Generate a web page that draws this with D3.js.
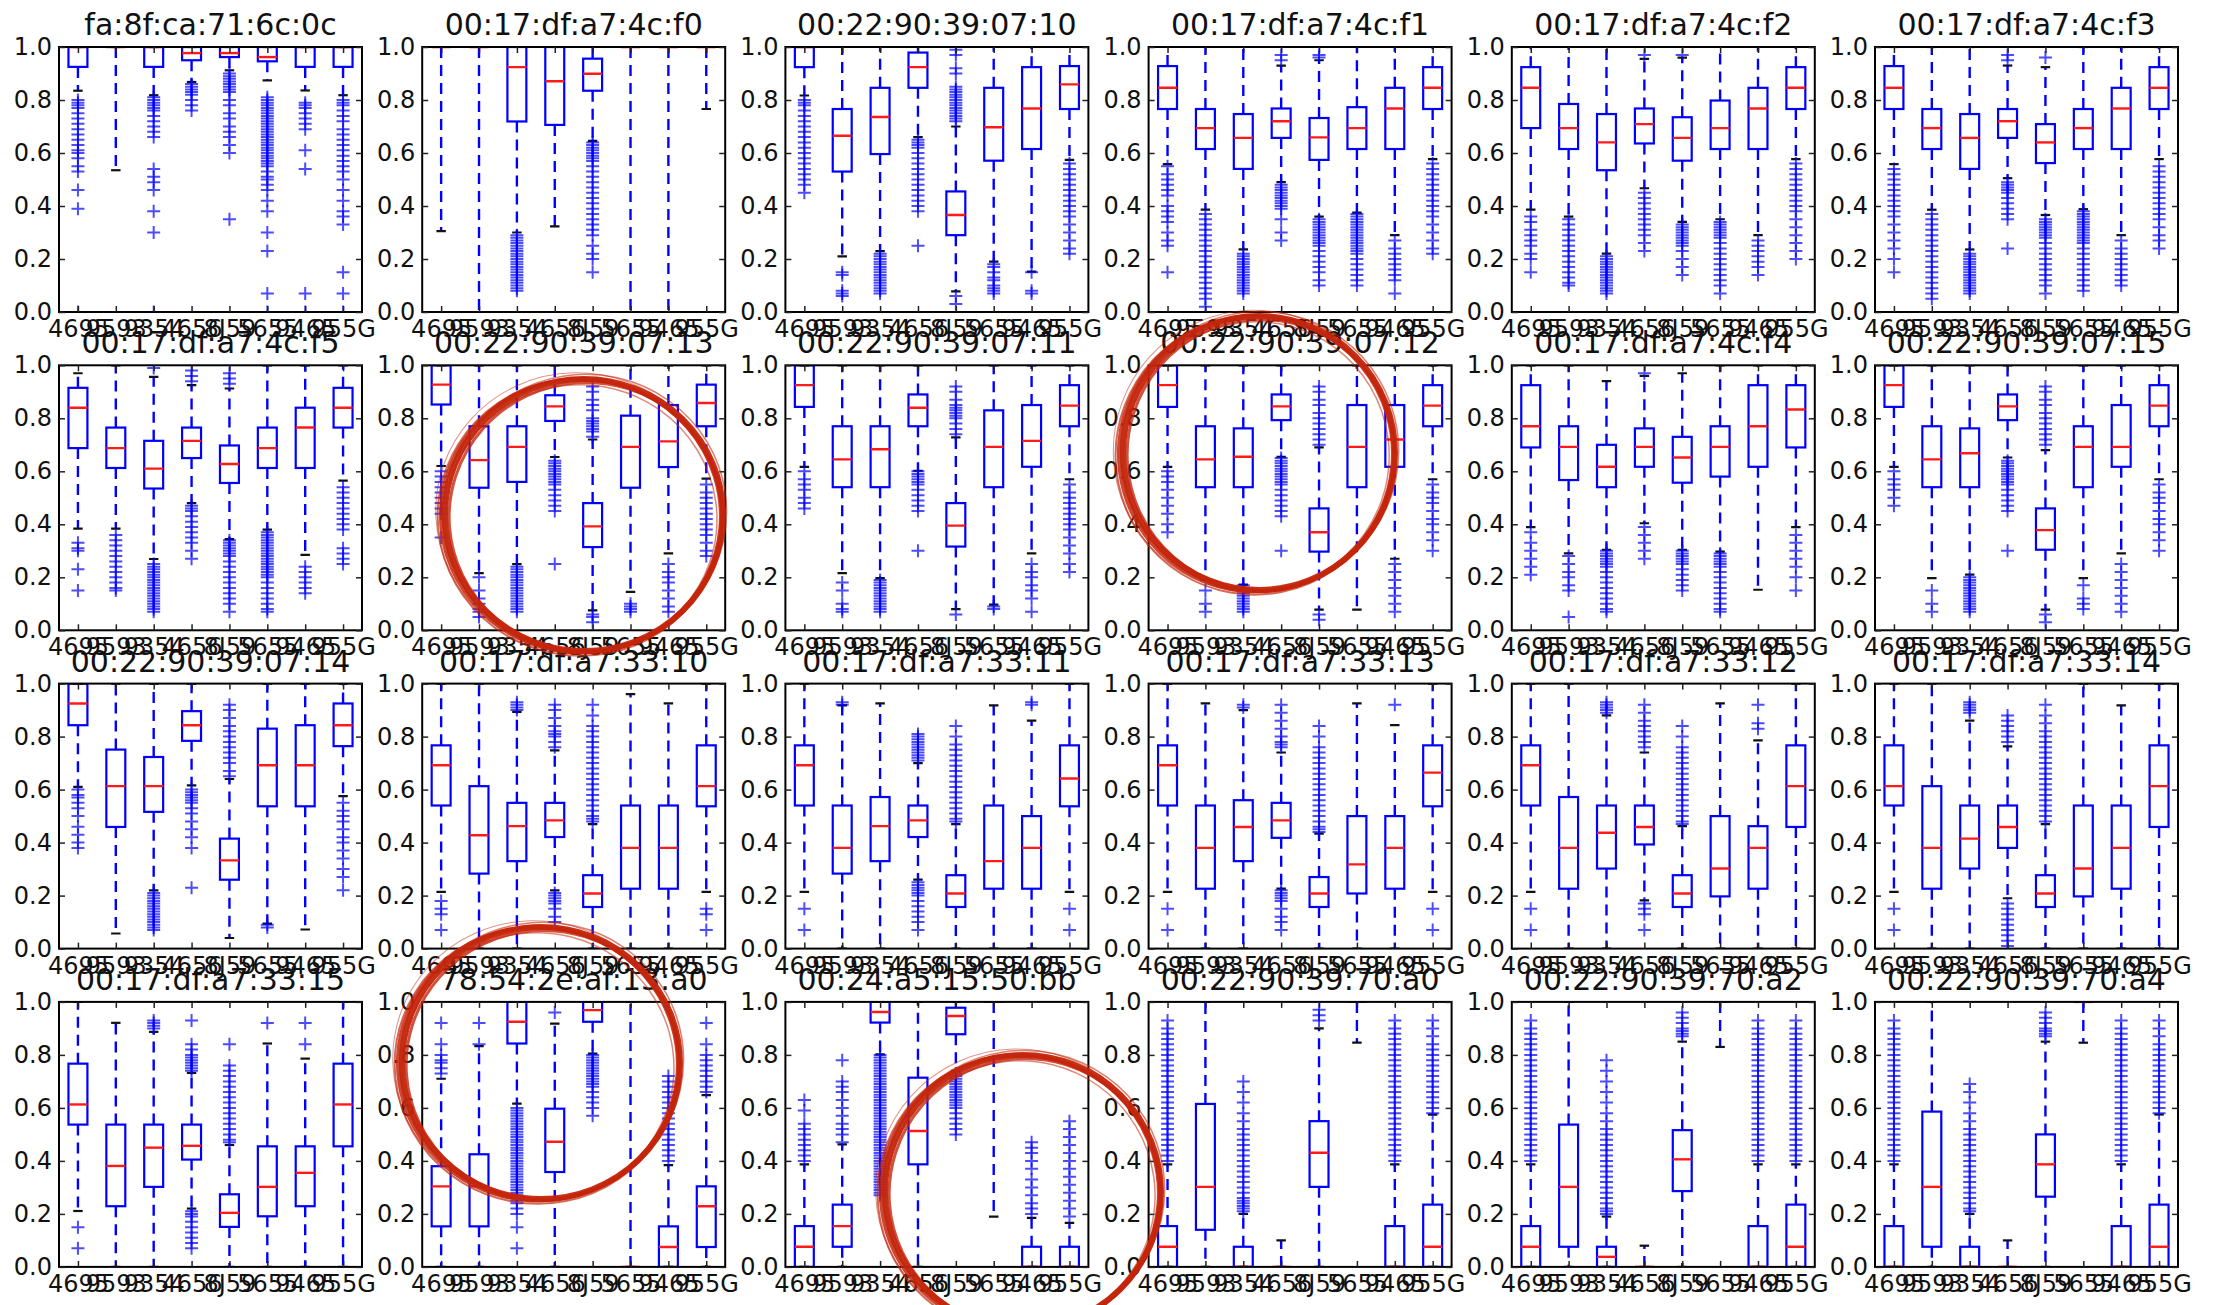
<!DOCTYPE html>
<html>
<head>
<meta charset="utf-8">
<script src="https://cdn.jsdelivr.net/npm/d3@7"></script>
<style>
  html, body { margin: 0; padding: 0; background: #fff; }
  svg { display: block; }
</style>
</head>
<body>
<svg id="chart" width="2219" height="1305"></svg>
<script>
// Access points, one small multiple each
const titles = [
  "fa:8f:ca:71:6c:0c", "00:17:df:a7:4c:f0", "00:22:90:39:07:10", "00:17:df:a7:4c:f1", "00:17:df:a7:4c:f2", "00:17:df:a7:4c:f3",
  "00:17:df:a7:4c:f5", "00:22:90:39:07:13", "00:22:90:39:07:11", "00:22:90:39:07:12", "00:17:df:a7:4c:f4", "00:22:90:39:07:15",
  "00:22:90:39:07:14", "00:17:df:a7:33:10", "00:17:df:a7:33:11", "00:17:df:a7:33:13", "00:17:df:a7:33:12", "00:17:df:a7:33:14",
  "00:17:df:a7:33:15", "78:54:2e:af:13:a0", "00:24:a5:15:50:bb", "00:22:90:39:70:a0", "00:22:90:39:70:a2", "00:22:90:39:70:a4"
];

// Box categories along each x axis
const categories = ["4695", "9593", "9354", "4656", "8J59", "5655", "9465", "955G"];
const yTicks = [0, 0.2, 0.4, 0.6, 0.8, 1.0];

// Lower whisker end (cap) per panel, per category
const whiskerLo = [
  [0.835, 0.535, 0.818, 0.868, 0.912, 0.874, 0.836, 0.818],
  [0.305, 0, 0.30, 0.323, 0.646, 0, 0, 0.766],
  [0.817, 0.21, 0.23, 0.66, 0.078, 0.19, 0.152, 0.574],
  [0.558, 0.386, 0.236, 0.49, 0.36, 0.375, 0.29, 0.577],
  [0.386, 0.36, 0.22, 0.467, 0.34, 0.35, 0.29, 0.577],
  [0.558, 0.386, 0.236, 0.505, 0.366, 0.388, 0.29, 0.577],
  [0.384, 0.384, 0.269, 0.48, 0.344, 0.38, 0.285, 0.565],
  [0.62, 0.216, 0.25, 0.654, 0.075, 0.145, 0.29, 0.572],
  [0.617, 0.216, 0.197, 0.602, 0.08, 0.097, 0.29, 0.57],
  [0.617, 0.19, 0.172, 0.655, 0.078, 0.078, 0.27, 0.57],
  [0.389, 0.29, 0.304, 0.404, 0.304, 0.297, 0.153, 0.389],
  [0.617, 0.197, 0.21, 0.652, 0.078, 0.197, 0.29, 0.57],
  [0.61, 0.057, 0.22, 0.616, 0.04, 0.094, 0.072, 0.575],
  [0.214, 0, 0, 0.22, 0, 0, 0, 0.214],
  [0.214, 0, 0, 0.26, 0, 0, 0, 0.214],
  [0.214, 0, 0, 0.226, 0, 0, 0, 0.214],
  [0.214, 0, 0, 0.182, 0, 0, 0, 0],
  [0.214, 0, 0, 0.19, 0, 0, 0, 0],
  [0.211, 0, 0, 0.22, 0, 0, 0, 0],
  [0, 0, 0.616, 0, 0.805, 0, 0, 0],
  [0, 0, 0.802, 0, 0.74, 0.19, 0, 0],
  [0, 0, 0, 0, 0, 0.846, 0, 0],
  [0, 0, 0, 0, 0, 0.83, 0, 0],
  [0, 0, 0, 0, 0, 0.846, 0, 0]
];

// First quartile
const quartileLo = [
  [0.925, 1, 0.925, 0.95, 0.962, 0.946, 0.925, 0.925],
  [1, 1, 0.719, 0.706, 0.835, 1, 1, 1],
  [0.924, 0.53, 0.596, 0.846, 0.29, 0.571, 0.615, 0.766],
  [0.766, 0.615, 0.54, 0.657, 0.574, 0.615, 0.615, 0.766],
  [0.694, 0.615, 0.535, 0.636, 0.571, 0.615, 0.615, 0.766],
  [0.766, 0.615, 0.54, 0.657, 0.562, 0.615, 0.615, 0.766],
  [0.6875, 0.6125, 0.535, 0.65, 0.556, 0.6125, 0.6125, 0.765],
  [0.852, 0.538, 0.56, 0.79, 0.314, 0.538, 0.616, 0.77],
  [0.843, 0.54, 0.54, 0.77, 0.316, 0.54, 0.617, 0.77],
  [0.843, 0.54, 0.54, 0.793, 0.297, 0.54, 0.617, 0.77],
  [0.69, 0.567, 0.54, 0.617, 0.557, 0.58, 0.617, 0.69],
  [0.843, 0.54, 0.54, 0.793, 0.304, 0.54, 0.617, 0.77],
  [0.843, 0.459, 0.516, 0.784, 0.26, 0.537, 0.537, 0.764],
  [0.54, 0.283, 0.33, 0.421, 0.157, 0.226, 0.226, 0.537],
  [0.54, 0.283, 0.33, 0.421, 0.157, 0.226, 0.226, 0.537],
  [0.54, 0.226, 0.33, 0.418, 0.157, 0.208, 0.226, 0.537],
  [0.54, 0.226, 0.302, 0.393, 0.157, 0.197, 0.226, 0.459],
  [0.54, 0.226, 0.302, 0.38, 0.157, 0.197, 0.226, 0.459],
  [0.537, 0.229, 0.302, 0.405, 0.151, 0.191, 0.229, 0.455],
  [0.153, 0.153, 0.843, 0.358, 0.925, 0, 0, 0.075],
  [0, 0.076, 0.922, 0.387, 0.878, 1, 0, 0],
  [0, 0.14, 0, 0, 0.302, 1, 0, 0],
  [0, 0.076, 0, 0, 0.286, 1, 0, 0],
  [0, 0.076, 0, 0, 0.265, 1, 0, 0]
];

// Medians
const medians = [
  [1, 1, 1, 0.977, 0.977, 0.962, 1, 1],
  [1, 1, 0.924, 0.871, 0.899, 1, 1, 1],
  [1, 0.665, 0.736, 0.924, 0.366, 0.697, 0.768, 0.859],
  [0.846, 0.694, 0.657, 0.72, 0.659, 0.694, 0.768, 0.846],
  [0.846, 0.694, 0.64, 0.709, 0.657, 0.694, 0.768, 0.846],
  [0.846, 0.694, 0.657, 0.72, 0.64, 0.694, 0.768, 0.846],
  [0.84, 0.6875, 0.61, 0.715, 0.6275, 0.6875, 0.765, 0.84],
  [0.927, 0.642, 0.692, 0.845, 0.392, 0.692, 0.713, 0.858],
  [0.925, 0.645, 0.683, 0.84, 0.395, 0.692, 0.715, 0.848],
  [0.925, 0.645, 0.655, 0.845, 0.37, 0.692, 0.72, 0.848],
  [0.77, 0.692, 0.617, 0.692, 0.652, 0.692, 0.77, 0.833],
  [0.925, 0.645, 0.668, 0.845, 0.378, 0.692, 0.692, 0.848],
  [0.925, 0.613, 0.613, 0.843, 0.333, 0.692, 0.692, 0.843],
  [0.692, 0.428, 0.462, 0.484, 0.208, 0.38, 0.38, 0.613],
  [0.692, 0.38, 0.462, 0.484, 0.208, 0.33, 0.38, 0.642],
  [0.692, 0.38, 0.459, 0.484, 0.208, 0.318, 0.38, 0.664],
  [0.692, 0.38, 0.437, 0.459, 0.208, 0.302, 0.38, 0.613],
  [0.613, 0.38, 0.415, 0.459, 0.208, 0.302, 0.38, 0.613],
  [0.613, 0.381, 0.45, 0.457, 0.204, 0.302, 0.355, 0.613],
  [0.304, 0.304, 0.925, 0.472, 0.969, 0, 0.075, 0.229],
  [0.076, 0.154, 0.962, 0.513, 0.947, 1, 0, 0],
  [0.076, 0.302, 0, 0, 0.431, 1, 0, 0.076],
  [0.076, 0.302, 0.038, 0, 0.406, 1, 0, 0.076],
  [0, 0.302, 0, 0, 0.387, 1, 0, 0.076]
];

// Third quartile
const quartileHi = [
  [1, 1, 1, 1, 1, 1, 1, 1],
  [1, 1, 1, 1, 0.956, 1, 1, 1],
  [1, 0.766, 0.846, 0.979, 0.455, 0.846, 0.924, 0.928],
  [0.928, 0.766, 0.747, 0.768, 0.732, 0.773, 0.846, 0.924],
  [0.924, 0.785, 0.747, 0.768, 0.735, 0.798, 0.846, 0.924],
  [0.928, 0.766, 0.747, 0.766, 0.709, 0.766, 0.846, 0.924],
  [0.915, 0.765, 0.715, 0.765, 0.6975, 0.765, 0.84, 0.915],
  [1, 0.77, 0.77, 0.887, 0.48, 0.81, 0.85, 0.927],
  [1, 0.77, 0.77, 0.89, 0.48, 0.83, 0.85, 0.925],
  [1, 0.77, 0.762, 0.89, 0.46, 0.85, 0.85, 0.925],
  [0.925, 0.77, 0.7, 0.762, 0.73, 0.77, 0.925, 0.925],
  [1, 0.77, 0.762, 0.89, 0.46, 0.77, 0.85, 0.925],
  [1, 0.751, 0.723, 0.896, 0.415, 0.83, 0.843, 0.925],
  [0.767, 0.613, 0.55, 0.55, 0.277, 0.54, 0.54, 0.767],
  [0.767, 0.54, 0.572, 0.54, 0.277, 0.54, 0.5, 0.767],
  [0.767, 0.54, 0.56, 0.55, 0.27, 0.5, 0.5, 0.767],
  [0.767, 0.572, 0.54, 0.54, 0.277, 0.5, 0.462, 0.767],
  [0.767, 0.613, 0.54, 0.54, 0.277, 0.54, 0.54, 0.767],
  [0.767, 0.537, 0.537, 0.537, 0.274, 0.455, 0.455, 0.767],
  [0.38, 0.425, 1, 0.597, 1, 0, 0.153, 0.304],
  [0.154, 0.235, 1, 0.714, 0.978, 1, 0.076, 0.076],
  [0.154, 0.615, 0.076, 0, 0.55, 1, 0.154, 0.235],
  [0.154, 0.537, 0.076, 0, 0.516, 1, 0.154, 0.235],
  [0.154, 0.586, 0.076, 0, 0.5, 1, 0.154, 0.235]
];

// Upper whisker end (cap)
const whiskerHi = [
  [1, 1, 1, 1, 1, 1, 1, 1],
  [1, 1, 1, 1, 1, 1, 1, 1],
  [1, 1, 1, 1, 0.70, 1, 1, 1],
  [1, 1, 1, 0.93, 0.95, 1, 1, 1],
  [1, 1, 1, 0.955, 0.96, 1, 1, 1],
  [1, 1, 1, 0.93, 0.924, 1, 1, 1],
  [0.97, 1, 0.956, 0.925, 0.9125, 1, 1, 1],
  [1, 1, 1, 1, 0.72, 1, 1, 1],
  [1, 1, 1, 1, 0.728, 1, 1, 1],
  [1, 1, 1, 1, 0.69, 1, 1, 1],
  [1, 1, 0.94, 0.96, 0.97, 1, 1, 1],
  [1, 1, 1, 1, 0.68, 1, 1, 1],
  [1, 1, 1, 1, 0.64, 1, 1, 1],
  [1, 1, 0.893, 0.748, 0.47, 0.96, 0.925, 1],
  [1, 0.918, 0.925, 0.70, 0.47, 0.918, 0.86, 1],
  [1, 0.925, 0.9, 0.74, 0.434, 0.925, 0.843, 1],
  [1, 1, 0.88, 0.74, 0.462, 0.925, 0.786, 1],
  [1, 1, 0.86, 0.763, 0.47, 1, 0.918, 1],
  [1, 0.921, 0.887, 0.732, 0.46, 0.843, 0.786, 1],
  [0.71, 0.833, 1, 0.918, 1, 1, 0.384, 0.648],
  [0.387, 0.462, 1, 1, 1, 1, 0.185, 0.166],
  [0.387, 1, 0.2, 0.1, 0.9, 1, 0.387, 0.575],
  [0.387, 1, 0.19, 0.08, 0.85, 1, 0.387, 0.387],
  [0.387, 1, 0.2, 0.1, 0.85, 1, 0.387, 0.575]
];

// Shared flier runs that repeat across the 70:aX access points
const longTail = [0.93, 0.90, 0.88, 0.86, 0.84, 0.82, 0.80, 0.78, 0.76, 0.74, 0.72, 0.70, 0.68, 0.66, 0.64, 0.62, 0.60, 0.58, 0.56, 0.54, 0.52, 0.50, 0.48, 0.46, 0.44, 0.42, 0.40];
const midTail = [0.93, 0.90, 0.87, 0.84, 0.82, 0.80, 0.78, 0.76, 0.74, 0.72, 0.70, 0.68, 0.66, 0.64, 0.62, 0.60, 0.58];

// Fliers beyond the whiskers
const outliers = [
  [[0.80, 0.79, 0.78, 0.77, 0.75, 0.73, 0.71, 0.69, 0.67, 0.65, 0.63, 0.61, 0.60, 0.58, 0.55, 0.53, 0.46, 0.39, 0.0],
   [],
   [0.81, 0.80, 0.79, 0.78, 0.77, 0.76, 0.74, 0.72, 0.70, 0.68, 0.66, 0.54, 0.51, 0.49, 0.46, 0.38, 0.30, 0.0],
   [0.86, 0.85, 0.84, 0.83, 0.82, 0.80, 0.78, 0.76],
   [0.90, 0.89, 0.88, 0.87, 0.86, 0.85, 0.84, 0.83, 0.80, 0.78, 0.75, 0.73, 0.70, 0.68, 0.66, 0.63, 0.60, 0.35],
   [0.81, 0.80, 0.79, 0.78, 0.77, 0.76, 0.75, 0.74, 0.73, 0.72, 0.71, 0.70, 0.69, 0.68, 0.67, 0.66, 0.65, 0.64, 0.63, 0.62, 0.61, 0.60, 0.59, 0.58, 0.57, 0.56, 0.55, 0.53, 0.51, 0.50, 0.48, 0.46, 0.42, 0.38, 0.30, 0.23, 0.07, 0.0],
   [0.79, 0.78, 0.77, 0.75, 0.73, 0.71, 0.69, 0.61, 0.54, 0.07, 0.0],
   [0.80, 0.79, 0.78, 0.76, 0.74, 0.72, 0.69, 0.67, 0.65, 0.63, 0.61, 0.59, 0.57, 0.55, 0.53, 0.50, 0.46, 0.42, 0.38, 0.36, 0.33, 0.15, 0.07, 0.0]],
  [[], [],
   [0.29, 0.28, 0.27, 0.26, 0.25, 0.24, 0.23, 0.22, 0.21, 0.20, 0.19, 0.18, 0.17, 0.16, 0.15, 0.14, 0.13, 0.12, 0.11, 0.10, 0.09, 0.08],
   [],
   [0.64, 0.63, 0.62, 0.61, 0.60, 0.59, 0.58, 0.57, 0.55, 0.53, 0.51, 0.49, 0.47, 0.45, 0.43, 0.41, 0.39, 0.37, 0.35, 0.33, 0.31, 0.29, 0.25, 0.22, 0.20, 0.15],
   [], [], []],
  [[0.80, 0.79, 0.78, 0.76, 0.74, 0.72, 0.70, 0.68, 0.66, 0.64, 0.62, 0.60, 0.58, 0.56, 0.54, 0.52, 0.50, 0.48, 0.45],
   [0.15, 0.14, 0.08, 0.07, 0.06],
   [0.22, 0.21, 0.20, 0.19, 0.18, 0.17, 0.16, 0.15, 0.14, 0.13, 0.12, 0.11, 0.10, 0.09, 0.08, 0.07],
   [0.65, 0.64, 0.63, 0.62, 0.60, 0.58, 0.56, 0.54, 0.52, 0.50, 0.48, 0.46, 0.44, 0.42, 0.40, 0.38, 0.25],
   [0.99, 0.97, 0.92, 0.90, 0.85, 0.84, 0.83, 0.82, 0.81, 0.80, 0.79, 0.78, 0.77, 0.76, 0.75, 0.74, 0.73, 0.72, 0.06, 0.03],
   [0.18, 0.17, 0.15, 0.13, 0.12, 0.10, 0.09, 0.08, 0.07],
   [0.15, 0.08, 0.07],
   [0.56, 0.54, 0.52, 0.50, 0.48, 0.46, 0.44, 0.42, 0.40, 0.38, 0.36, 0.33, 0.30, 0.27, 0.24, 0.22]],
  [[0.55, 0.52, 0.50, 0.48, 0.46, 0.44, 0.40, 0.38, 0.36, 0.34, 0.30, 0.27, 0.25, 0.15],
   [0.37, 0.35, 0.33, 0.31, 0.29, 0.27, 0.25, 0.23, 0.21, 0.19, 0.17, 0.15, 0.13, 0.11, 0.09, 0.07, 0.05, 0.02],
   [0.22, 0.21, 0.20, 0.19, 0.18, 0.17, 0.16, 0.15, 0.14, 0.13, 0.12, 0.11, 0.10, 0.09, 0.08, 0.07],
   [0.97, 0.95, 0.48, 0.47, 0.46, 0.45, 0.44, 0.43, 0.42, 0.41, 0.40, 0.39, 0.35, 0.30, 0.27],
   [0.97, 0.96, 0.35, 0.34, 0.33, 0.32, 0.31, 0.30, 0.29, 0.28, 0.27, 0.26, 0.25, 0.23, 0.21, 0.19, 0.17, 0.15, 0.12, 0.10],
   [0.37, 0.36, 0.35, 0.34, 0.33, 0.32, 0.31, 0.30, 0.29, 0.28, 0.27, 0.26, 0.25, 0.24, 0.23, 0.22, 0.20, 0.18, 0.16, 0.14, 0.12, 0.10],
   [0.27, 0.24, 0.22, 0.20, 0.18, 0.16, 0.14, 0.12, 0.07],
   [0.56, 0.54, 0.52, 0.50, 0.48, 0.46, 0.44, 0.42, 0.40, 0.38, 0.36, 0.33, 0.30, 0.27, 0.24, 0.22]],
  [[0.36, 0.34, 0.31, 0.29, 0.27, 0.25, 0.22, 0.20, 0.15],
   [0.35, 0.33, 0.31, 0.29, 0.27, 0.25, 0.23, 0.21, 0.19, 0.17, 0.15, 0.13, 0.11, 0.10],
   [0.21, 0.20, 0.19, 0.18, 0.17, 0.16, 0.15, 0.14, 0.13, 0.12, 0.11, 0.10, 0.09, 0.08, 0.07],
   [0.97, 0.45, 0.43, 0.41, 0.39, 0.37, 0.35, 0.33, 0.31, 0.29, 0.26, 0.23],
   [0.97, 0.33, 0.32, 0.31, 0.30, 0.29, 0.28, 0.27, 0.26, 0.25, 0.23, 0.20, 0.17, 0.14],
   [0.34, 0.33, 0.32, 0.31, 0.30, 0.29, 0.28, 0.26, 0.24, 0.22, 0.20, 0.18, 0.16, 0.14, 0.12, 0.10, 0.07],
   [0.27, 0.25, 0.23, 0.21, 0.19, 0.17, 0.14],
   [0.56, 0.54, 0.52, 0.50, 0.48, 0.46, 0.44, 0.42, 0.40, 0.38, 0.35, 0.32, 0.29, 0.26, 0.23, 0.20]],
  [[0.54, 0.52, 0.50, 0.48, 0.46, 0.44, 0.42, 0.40, 0.38, 0.36, 0.33, 0.30, 0.27, 0.24, 0.20, 0.15],
   [0.37, 0.35, 0.33, 0.31, 0.29, 0.27, 0.25, 0.23, 0.21, 0.19, 0.17, 0.15, 0.13, 0.11, 0.09, 0.07, 0.05],
   [0.22, 0.21, 0.20, 0.19, 0.18, 0.17, 0.16, 0.15, 0.14, 0.13, 0.12, 0.11, 0.10, 0.09, 0.08, 0.07],
   [0.97, 0.95, 0.49, 0.48, 0.47, 0.46, 0.45, 0.43, 0.41, 0.39, 0.37, 0.35, 0.24],
   [0.96, 0.35, 0.34, 0.33, 0.32, 0.31, 0.30, 0.29, 0.28, 0.26, 0.24, 0.22, 0.20, 0.18, 0.16, 0.14, 0.12, 0.10, 0.07],
   [0.38, 0.37, 0.36, 0.35, 0.34, 0.33, 0.32, 0.31, 0.30, 0.29, 0.28, 0.27, 0.26, 0.24, 0.22, 0.20, 0.18, 0.16, 0.14, 0.12, 0.10, 0.08],
   [0.27, 0.24, 0.22, 0.20, 0.18, 0.16, 0.14, 0.12, 0.10],
   [0.55, 0.53, 0.51, 0.49, 0.47, 0.45, 0.43, 0.41, 0.39, 0.37, 0.35, 0.32, 0.29, 0.27, 0.24]],
  [[0.33, 0.31, 0.30, 0.23, 0.15],
   [0.36, 0.34, 0.32, 0.30, 0.28, 0.26, 0.24, 0.22, 0.20, 0.18, 0.16, 0.15],
   [0.99, 0.25, 0.24, 0.23, 0.22, 0.21, 0.20, 0.19, 0.18, 0.17, 0.16, 0.15, 0.14, 0.13, 0.12, 0.11, 0.10, 0.09, 0.08, 0.07],
   [0.98, 0.96, 0.94, 0.47, 0.46, 0.45, 0.43, 0.41, 0.39, 0.37, 0.35, 0.33, 0.30, 0.27],
   [0.97, 0.95, 0.93, 0.34, 0.33, 0.32, 0.31, 0.30, 0.29, 0.28, 0.26, 0.24, 0.22, 0.20, 0.18, 0.16, 0.14, 0.12, 0.10, 0.07],
   [0.37, 0.36, 0.35, 0.34, 0.33, 0.32, 0.31, 0.30, 0.29, 0.28, 0.27, 0.26, 0.25, 0.24, 0.23, 0.22, 0.21, 0.20, 0.18, 0.16, 0.14, 0.12, 0.10, 0.08, 0.07],
   [0.24, 0.22, 0.20, 0.18, 0.16, 0.14],
   [0.54, 0.52, 0.50, 0.48, 0.46, 0.44, 0.42, 0.40, 0.38, 0.31, 0.29, 0.27, 0.25]],
  [[0.60, 0.58, 0.56, 0.54, 0.52, 0.50, 0.48, 0.46, 0.44, 0.35],
   [0.20, 0.15, 0.12, 0.10, 0.08, 0.07, 0.05],
   [0.24, 0.23, 0.22, 0.21, 0.20, 0.19, 0.18, 0.17, 0.16, 0.15, 0.14, 0.13, 0.12, 0.11, 0.10, 0.09, 0.08, 0.07],
   [0.64, 0.63, 0.62, 0.61, 0.60, 0.59, 0.58, 0.57, 0.56, 0.55, 0.53, 0.51, 0.49, 0.47, 0.45, 0.25],
   [0.92, 0.90, 0.87, 0.85, 0.83, 0.80, 0.79, 0.78, 0.77, 0.76, 0.75, 0.73, 0.06, 0.05, 0.03],
   [0.10, 0.09, 0.08, 0.07],
   [0.25, 0.22, 0.20, 0.18, 0.15, 0.12, 0.09, 0.07],
   [0.55, 0.52, 0.50, 0.48, 0.46, 0.44, 0.42, 0.40, 0.38, 0.36, 0.33, 0.30, 0.28]],
  [[0.60, 0.57, 0.55, 0.53, 0.50, 0.48, 0.46],
   [0.18, 0.15, 0.10, 0.08, 0.07],
   [0.19, 0.18, 0.17, 0.16, 0.15, 0.14, 0.13, 0.12, 0.11, 0.10, 0.09, 0.08, 0.07],
   [0.60, 0.59, 0.58, 0.57, 0.56, 0.55, 0.53, 0.51, 0.49, 0.47, 0.45, 0.30],
   [0.92, 0.90, 0.87, 0.85, 0.84, 0.83, 0.82, 0.81, 0.80, 0.78, 0.76, 0.74, 0.06],
   [0.09, 0.08],
   [0.25, 0.22, 0.20, 0.17, 0.15, 0.12, 0.07],
   [0.55, 0.52, 0.50, 0.48, 0.46, 0.44, 0.42, 0.40, 0.38, 0.35, 0.32, 0.29, 0.25, 0.22]],
  [[0.60, 0.58, 0.56, 0.53, 0.50, 0.47, 0.44, 0.40, 0.37],
   [0.15, 0.10, 0.07],
   [0.17, 0.16, 0.15, 0.14, 0.13, 0.12, 0.11, 0.10, 0.09, 0.08, 0.07],
   [0.65, 0.64, 0.63, 0.62, 0.61, 0.60, 0.59, 0.58, 0.57, 0.56, 0.55, 0.53, 0.51, 0.49, 0.47, 0.45, 0.43, 0.30],
   [0.92, 0.90, 0.87, 0.85, 0.82, 0.80, 0.78, 0.76, 0.74, 0.72, 0.70, 0.06, 0.04],
   [],
   [0.25, 0.22, 0.19, 0.16, 0.13, 0.10, 0.07],
   [0.55, 0.52, 0.50, 0.48, 0.45, 0.42, 0.40, 0.37, 0.34, 0.30]],
  [[0.37, 0.33, 0.30, 0.27, 0.24, 0.21],
   [0.28, 0.25, 0.22, 0.20, 0.17, 0.15, 0.05],
   [0.30, 0.29, 0.28, 0.27, 0.26, 0.25, 0.24, 0.22, 0.20, 0.18, 0.16, 0.14, 0.12, 0.10, 0.08, 0.07],
   [0.97, 0.39, 0.36, 0.33, 0.30, 0.27],
   [0.30, 0.29, 0.28, 0.27, 0.26, 0.25, 0.23, 0.21, 0.19, 0.17, 0.15],
   [0.29, 0.28, 0.27, 0.26, 0.25, 0.24, 0.22, 0.20, 0.18, 0.16, 0.14, 0.12, 0.10, 0.08, 0.07],
   [],
   [0.36, 0.33, 0.30, 0.27, 0.24, 0.20, 0.15]],
  [[0.60, 0.57, 0.55, 0.53, 0.50, 0.47],
   [0.15, 0.10, 0.07],
   [0.20, 0.19, 0.18, 0.17, 0.16, 0.15, 0.14, 0.13, 0.12, 0.11, 0.10, 0.09, 0.08, 0.07],
   [0.64, 0.63, 0.62, 0.61, 0.60, 0.59, 0.58, 0.57, 0.56, 0.55, 0.53, 0.51, 0.49, 0.47, 0.45, 0.30],
   [0.92, 0.90, 0.87, 0.85, 0.82, 0.80, 0.78, 0.76, 0.74, 0.72, 0.70, 0.06, 0.03],
   [0.17, 0.12, 0.10, 0.08],
   [0.25, 0.22, 0.19, 0.16, 0.13, 0.10, 0.07],
   [0.55, 0.52, 0.50, 0.48, 0.45, 0.42, 0.40, 0.37, 0.34, 0.30]],
  [[0.60, 0.58, 0.57, 0.55, 0.53, 0.50, 0.46, 0.43, 0.40, 0.38],
   [],
   [0.21, 0.20, 0.19, 0.18, 0.17, 0.16, 0.15, 0.14, 0.13, 0.12, 0.11, 0.10, 0.09, 0.08, 0.07],
   [0.60, 0.59, 0.58, 0.57, 0.56, 0.55, 0.53, 0.51, 0.48, 0.45, 0.42, 0.38, 0.23],
   [0.92, 0.90, 0.87, 0.84, 0.82, 0.80, 0.78, 0.76, 0.74, 0.72, 0.70, 0.67, 0.65],
   [0.09, 0.08],
   [],
   [0.55, 0.52, 0.50, 0.48, 0.45, 0.42, 0.40, 0.37, 0.34, 0.30, 0.27, 0.22]],
  [[0.18, 0.15, 0.13, 0.07],
   [],
   [0.93, 0.92, 0.91, 0.90],
   [0.92, 0.90, 0.87, 0.84, 0.82, 0.81, 0.80, 0.78, 0.76, 0.21, 0.20, 0.19, 0.18, 0.17, 0.15, 0.12, 0.10],
   [0.92, 0.88, 0.84, 0.82, 0.80, 0.78, 0.76, 0.74, 0.72, 0.70, 0.68, 0.66, 0.64, 0.62, 0.60, 0.58, 0.56, 0.54, 0.52, 0.50, 0.49, 0.48],
   [], [],
   [0.15, 0.13, 0.07]],
  [[0.15, 0.07],
   [0.93, 0.92],
   [],
   [0.81, 0.80, 0.79, 0.78, 0.77, 0.76, 0.75, 0.74, 0.73, 0.72, 0.71, 0.25, 0.24, 0.23, 0.22, 0.21, 0.20, 0.18, 0.16, 0.14, 0.12, 0.10, 0.07],
   [0.84, 0.80, 0.77, 0.75, 0.73, 0.71, 0.69, 0.67, 0.65, 0.63, 0.61, 0.59, 0.57, 0.55, 0.53, 0.51, 0.49, 0.48],
   [],
   [0.93, 0.92],
   [0.15, 0.07]],
  [[0.15, 0.07],
   [],
   [0.92, 0.91],
   [0.92, 0.89, 0.86, 0.83, 0.80, 0.78, 0.77, 0.76, 0.22, 0.21, 0.20, 0.19, 0.18, 0.15, 0.12, 0.10, 0.07],
   [0.84, 0.80, 0.76, 0.74, 0.72, 0.70, 0.68, 0.66, 0.64, 0.62, 0.60, 0.58, 0.56, 0.54, 0.52, 0.50, 0.48, 0.46, 0.45, 0.44],
   [],
   [0.92],
   [0.15, 0.07]],
  [[0.15, 0.07],
   [],
   [0.93, 0.92, 0.91, 0.90, 0.89],
   [0.92, 0.89, 0.86, 0.84, 0.82, 0.80, 0.78, 0.76, 0.17, 0.15, 0.13, 0.07],
   [0.84, 0.80, 0.76, 0.74, 0.72, 0.70, 0.68, 0.66, 0.64, 0.62, 0.60, 0.58, 0.56, 0.54, 0.52, 0.50, 0.48, 0.47],
   [],
   [0.92, 0.85, 0.83],
   []],
  [[0.15, 0.07],
   [],
   [0.93, 0.92, 0.91, 0.90, 0.89],
   [0.88, 0.86, 0.84, 0.82, 0.80, 0.78, 0.17, 0.15, 0.13, 0.11, 0.09, 0.07, 0.05, 0.03, 0.01],
   [0.92, 0.88, 0.85, 0.82, 0.80, 0.78, 0.76, 0.74, 0.72, 0.70, 0.68, 0.66, 0.64, 0.62, 0.60, 0.58, 0.56, 0.54, 0.52, 0.50, 0.48],
   [], [], []],
  [[0.15, 0.07],
   [],
   [0.93, 0.92, 0.91, 0.90],
   [0.93, 0.84, 0.82, 0.80, 0.79, 0.78, 0.77, 0.76, 0.75, 0.74, 0.21, 0.20, 0.19, 0.17, 0.15, 0.13, 0.11, 0.09, 0.07],
   [0.84, 0.76, 0.74, 0.72, 0.70, 0.68, 0.66, 0.64, 0.62, 0.60, 0.58, 0.56, 0.54, 0.52, 0.50, 0.48, 0.47],
   [0.92],
   [0.92, 0.84],
   []],
  [[0.92, 0.84, 0.80, 0.78, 0.77, 0.75, 0.73],
   [0.92, 0.84],
   [0.60, 0.59, 0.58, 0.57, 0.56, 0.55, 0.54, 0.53, 0.52, 0.51, 0.50, 0.49, 0.48, 0.47, 0.46, 0.45, 0.44, 0.43, 0.42, 0.41, 0.40, 0.39, 0.38, 0.37, 0.36, 0.35, 0.34, 0.33, 0.32, 0.31, 0.30, 0.29, 0.28, 0.27, 0.26, 0.25, 0.24, 0.22, 0.20, 0.15, 0.07],
   [0.96],
   [0.80, 0.79, 0.78, 0.77, 0.76, 0.75, 0.74, 0.73, 0.72, 0.71, 0.70, 0.69, 0.68, 0.66, 0.64, 0.62, 0.60, 0.57],
   [],
   [0.72, 0.70, 0.68, 0.66, 0.64, 0.62, 0.60, 0.58, 0.56, 0.54, 0.52, 0.50, 0.48, 0.46, 0.44, 0.42, 0.40],
   [0.92, 0.84, 0.80, 0.78, 0.76, 0.74, 0.72, 0.70, 0.68, 0.66]],
  [[0.63, 0.59, 0.54, 0.52, 0.50, 0.48, 0.46, 0.44, 0.42, 0.40],
   [0.78, 0.70, 0.68, 0.66, 0.63, 0.60, 0.57, 0.54, 0.52, 0.50, 0.47],
   [0.80, 0.79, 0.78, 0.77, 0.76, 0.75, 0.74, 0.73, 0.72, 0.71, 0.70, 0.69, 0.68, 0.67, 0.66, 0.65, 0.64, 0.63, 0.62, 0.61, 0.60, 0.59, 0.58, 0.57, 0.56, 0.55, 0.54, 0.53, 0.52, 0.51, 0.50, 0.49, 0.48, 0.47, 0.46, 0.45, 0.44, 0.43, 0.42, 0.41, 0.40, 0.39, 0.38, 0.37, 0.36, 0.35, 0.34, 0.33, 0.32, 0.31, 0.30, 0.29, 0.28, 0.27],
   [],
   [0.73, 0.72, 0.71, 0.70, 0.69, 0.68, 0.67, 0.66, 0.65, 0.64, 0.63, 0.62, 0.61, 0.60, 0.58, 0.56, 0.54, 0.52, 0.50],
   [],
   [0.47, 0.45, 0.43, 0.40, 0.37, 0.33, 0.30, 0.27, 0.24, 0.22, 0.20],
   [0.55, 0.52, 0.49, 0.46, 0.43, 0.40, 0.37, 0.34, 0.31, 0.28, 0.25, 0.22, 0.19]],
  [longTail,
   [],
   [0.70, 0.66, 0.62, 0.58, 0.55, 0.52, 0.50, 0.48, 0.46, 0.44, 0.42, 0.40, 0.38, 0.36, 0.34, 0.32, 0.30, 0.28, 0.26, 0.25, 0.24, 0.23, 0.22, 0.21],
   [],
   [0.97, 0.95, 0.93],
   [],
   longTail,
   midTail],
  [longTail,
   [],
   [0.78, 0.74, 0.70, 0.66, 0.62, 0.58, 0.55, 0.52, 0.50, 0.48, 0.46, 0.44, 0.42, 0.40, 0.38, 0.36, 0.34, 0.32, 0.30, 0.28, 0.26, 0.24, 0.22, 0.21, 0.20],
   [],
   [0.96, 0.94, 0.92, 0.90, 0.89, 0.88, 0.87],
   [],
   longTail,
   longTail],
  [longTail,
   [],
   [0.69, 0.66, 0.62, 0.58, 0.55, 0.52, 0.50, 0.48, 0.46, 0.44, 0.42, 0.40, 0.38, 0.36, 0.34, 0.32, 0.30, 0.28, 0.26, 0.24, 0.22, 0.21],
   [],
   [0.96, 0.94, 0.92, 0.90, 0.89, 0.88, 0.87],
   [],
   longTail,
   midTail]
];

// ---------- layout ----------
const svg = d3.select("#chart");
const plotW = 303, plotH = 265;
const originX = 59, originY = 47;
const stepX = 363.2, stepY = 318.3;
const nCols = 6;

const x = d3.scaleLinear().domain([0.5, categories.length + 0.5]).range([0, plotW]);
const y = d3.scaleLinear().domain([0, 1]).range([plotH, 0]);
const slot = x(2) - x(1);
const boxHalf = slot * 0.25;
const capHalf = slot * 0.125;

const BLUE = "#0000ff";
const FONT = "'DejaVu Sans', 'Bitstream Vera Sans', sans-serif";

svg.append("rect").attr("width", 2219).attr("height", 1305).attr("fill", "#fff");

svg.append("defs").append("clipPath").attr("id", "plot-clip")
  .append("rect").attr("x", 0).attr("y", 0).attr("width", plotW).attr("height", plotH);

const plus = "M-6.5,0H6.5M0,-6.5V6.5";

titles.forEach((title, p) => {
  const col = p % nCols, row = Math.floor(p / nCols);
  const g = svg.append("g")
    .attr("transform", `translate(${originX + col * stepX},${originY + row * stepY})`);

  const marks = g.append("g").attr("clip-path", "url(#plot-clip)");

  categories.forEach((cat, i) => {
    const cx = x(i + 1);
    const wl = whiskerLo[p][i], q1 = quartileLo[p][i], med = medians[p][i];
    const q3 = quartileHi[p][i], wh = whiskerHi[p][i];

    // whiskers: dashed, from the box edges out to the caps
    marks.append("line")
      .attr("x1", cx).attr("x2", cx).attr("y1", y(q3)).attr("y2", y(wh))
      .attr("stroke", BLUE).attr("stroke-width", 2.4).attr("stroke-dasharray", "11,7");
    marks.append("line")
      .attr("x1", cx).attr("x2", cx).attr("y1", y(q1)).attr("y2", y(wl))
      .attr("stroke", BLUE).attr("stroke-width", 2.4).attr("stroke-dasharray", "11,7");

    // box
    marks.append("rect")
      .attr("x", cx - boxHalf).attr("y", y(q3))
      .attr("width", boxHalf * 2).attr("height", Math.max(0, y(q1) - y(q3)))
      .attr("fill", "none").attr("stroke", BLUE).attr("stroke-width", 2.2);

    // caps
    [wl, wh].forEach(v => {
      marks.append("line")
        .attr("x1", cx - capHalf).attr("x2", cx + capHalf)
        .attr("y1", y(v)).attr("y2", y(v))
        .attr("stroke", "#111").attr("stroke-width", 2.2);
    });

    // median
    marks.append("line")
      .attr("x1", cx - boxHalf).attr("x2", cx + boxHalf)
      .attr("y1", y(med)).attr("y2", y(med))
      .attr("stroke", "#ff1a1a").attr("stroke-width", 2.4);

    // fliers
    marks.selectAll(null).data(outliers[p][i]).enter().append("path")
      .attr("d", plus)
      .attr("transform", d => `translate(${cx},${y(d)})`)
      .attr("fill", "none").attr("stroke", BLUE).attr("stroke-width", 2)
      .attr("stroke-opacity", 0.7);
  });

  // frame
  g.append("rect").attr("width", plotW).attr("height", plotH)
    .attr("fill", "none").attr("stroke", "#000").attr("stroke-width", 2);

  // axes with inward ticks on all four sides
  const yLeft = d3.axisLeft(y).tickValues(yTicks).tickFormat(d3.format(".1f"))
    .tickSizeInner(-6).tickSizeOuter(0).tickPadding(7);
  const yRight = d3.axisRight(y).tickValues(yTicks).tickFormat("")
    .tickSizeInner(-6).tickSizeOuter(0);
  const xBottom = d3.axisBottom(x).tickValues(d3.range(1, categories.length + 1))
    .tickFormat(d => categories[d - 1]).tickSizeInner(-6).tickSizeOuter(0).tickPadding(8);
  const xTop = d3.axisTop(x).tickValues(d3.range(1, categories.length + 1))
    .tickFormat("").tickSizeInner(-6).tickSizeOuter(0);

  const axes = [
    g.append("g").call(yLeft),
    g.append("g").attr("transform", `translate(${plotW},0)`).call(yRight),
    g.append("g").attr("transform", `translate(0,${plotH})`).call(xBottom),
    g.append("g").call(xTop)
  ];
  axes.forEach(a => {
    a.select(".domain").remove();
    a.selectAll(".tick line").attr("stroke", "#222").attr("stroke-width", 1.5);
    a.selectAll(".tick text")
      .attr("fill", "#111").style("font-family", FONT).style("font-size", "24px");
  });

  // title
  g.append("text")
    .attr("x", plotW / 2).attr("y", -12)
    .attr("text-anchor", "middle")
    .attr("fill", "#111")
    .style("font-family", FONT).style("font-size", "30px")
    .text(title);
});

// ---------- hand-drawn highlight rings ----------
// several tight, overlapping passes give the brushed look
const ringStrokes = [
  { dx: 0, dy: 0, dr: 0, w: 6, o: 0.95, rot: 0 },
  { dx: -3, dy: 1, dr: 1, w: 4, o: 0.85, rot: 5 },
  { dx: 2, dy: 2, dr: -2, w: 3, o: 0.8, rot: -4 },
  { dx: -4, dy: 3, dr: 3, w: 2, o: 0.7, rot: 10 },
  { dx: 1, dy: -2, dr: 3, w: 1.5, o: 0.6, rot: -9 },
  { dx: -2, dy: 4, dr: -3, w: 1.5, o: 0.55, rot: 14 },
  { dx: -5, dy: 0, dr: 5, w: 1, o: 0.5, rot: 20 }
];
const rings = [
  { cx: 584, cy: 515, rx: 139, ry: 136 },
  { cx: 1259, cy: 453, rx: 136, ry: 137 },
  { cx: 541, cy: 1063, rx: 139, ry: 136 },
  { cx: 1023, cy: 1192, rx: 138, ry: 137 }
];
const ringLayer = svg.append("g");
rings.forEach(r => {
  ringStrokes.forEach(s => {
    ringLayer.append("ellipse")
      .attr("cx", r.cx + s.dx).attr("cy", r.cy + s.dy)
      .attr("rx", r.rx + s.dr).attr("ry", r.ry + s.dr * 0.8)
      .attr("transform", `rotate(${s.rot},${r.cx},${r.cy})`)
      .attr("fill", "none")
      .attr("stroke", "#c4260c")
      .attr("stroke-width", s.w)
      .attr("stroke-opacity", s.o);
  });
});
</script>
</body>
</html>
